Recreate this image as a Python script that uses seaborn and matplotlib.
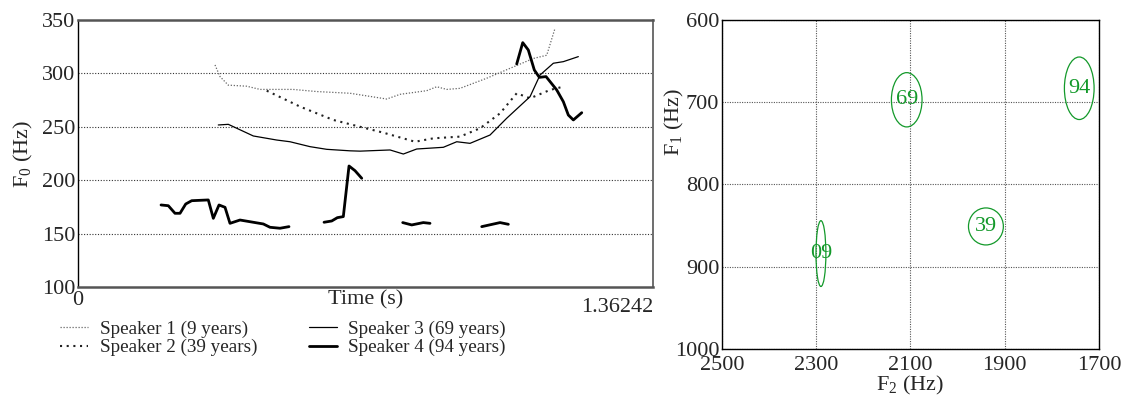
import numpy as np
import pandas as pd
import matplotlib
matplotlib.use("Agg")
import matplotlib.pyplot as plt
import seaborn as sns
from matplotlib.patches import Ellipse
from matplotlib.lines import Line2D

# ---------------- data ----------------
T_MAX = 1.36242

s1_t = [0.3246, 0.3365, 0.356, 0.3997, 0.4312, 0.5094, 0.5656, 0.6445, 0.7314, 0.763,
        0.826, 0.85, 0.8736, 0.905, 0.968, 1.031, 1.079, 1.1105, 1.130]
s1_f = [307.9, 297, 289, 288, 285, 285, 283, 281.4, 276, 280.4,
        283.8, 287.5, 285, 286, 295.4, 306, 314, 317, 342]

s2_t = [0.4471, 0.526, 0.6049, 0.6682, 0.7234, 0.7985, 0.8419, 0.9051, 0.9525, 0.9999,
        1.0394, 1.071, 1.1184, 1.1499]
s2_f = [283.8, 268.9, 256.4, 250, 244.5, 236, 239.2, 240.8, 248.6, 262.6,
        281.4, 276.7, 284.5, 287.6]

s3_t = [0.3324, 0.3561, 0.4154, 0.4708, 0.5023, 0.5497, 0.5893, 0.6445, 0.6682, 0.7393,
        0.7708, 0.8025, 0.8656, 0.8973, 0.9288, 0.9762, 1.0157, 1.071, 1.0947, 1.1262,
        1.1499, 1.1854]
s3_f = [251.7, 252.3, 241.4, 237.6, 236, 231.4, 228.9, 227.5, 227.2, 228.3,
        224.5, 229.2, 230.8, 236, 234.5, 242.3, 258, 278.2, 298.5, 309.5,
        311, 315.7]

s4_seg = [0] * 16 + [1] * 7 + [2] * 4 + [3] * 3 + [4] * 11
s4_t = [0.1967, 0.2140, 0.2298, 0.2417, 0.2552, 0.2694, 0.3087, 0.3206, 0.3341, 0.3483,
        0.3601, 0.3838, 0.4391, 0.4549, 0.4786, 0.4999,
        0.5829, 0.6011, 0.6144, 0.6286, 0.6421, 0.6563, 0.6722,
        0.7693, 0.7907, 0.8181, 0.8340,
        0.9565, 0.9999, 1.0196,
        1.0394, 1.0537, 1.0669, 1.0811, 1.0930, 1.1089, 1.1342, 1.1499, 1.1617, 1.1736, 1.1935]
s4_f = [176.8, 176.1, 169, 169, 177.7, 180.8, 181.5, 164.3, 176.8, 174.6,
        159.6, 162.7, 159, 155.9, 155, 156.5,
        160.6, 161.8, 164.9, 165.9, 213.3, 208.9, 201.8,
        160.3, 158.1, 160.3, 159.6,
        156.5, 160.3, 158.7,
        308.8, 328.8, 321.9, 303.2, 296.3, 297, 284.5, 273.5, 261, 256.4, 263.2]

speaker_labels = ["Speaker 1 (9 years)", "Speaker 2 (39 years)",
                  "Speaker 3 (69 years)", "Speaker 4 (94 years)"]

vowel_labels = ["09", "69", "39", "94"]
vowel_f2 = [2290, 2108, 1940, 1742]
vowel_f1 = [884, 697, 851, 683]
vowel_w = [21, 65, 74, 63]     # ellipse width in F2 (Hz)
vowel_h = [80, 66, 45, 76]     # ellipse height in F1 (Hz)

# ---------------- style ----------------
sns.set_style("white")
plt.rcParams["font.family"] = ["Liberation Serif", "DejaVu Serif"]
plt.rcParams["mathtext.fontset"] = "stix"
FS = 16
FLEG = 13.8

fig = plt.figure(figsize=(11.24, 3.96), dpi=100)
ax1 = fig.add_axes([0.0694, 0.2753, 0.5116, 0.6742])
ax2 = fig.add_axes([0.6423, 0.1187, 0.3355, 0.8308])

styles = [
    dict(color="#666666", lw=0.9, ls=(0, (1, 1.4))),
    dict(color="#222222", lw=1.5, ls=(0, (1, 2.2))),
    dict(color="black", lw=0.9, ls="-"),
    dict(color="black", lw=2.0, ls="-"),
]

def draw(t, f, seg, st):
    df = pd.DataFrame({"t": t, "f": f, "seg": seg})
    sns.lineplot(data=df, x="t", y="f", units="seg", estimator=None, sort=False,
                 ax=ax1, color=st["color"], linewidth=st["lw"], linestyle=st["ls"])

draw(s1_t, s1_f, [0] * len(s1_t), styles[0])
draw(s2_t, s2_f, [0] * len(s2_t), styles[1])
draw(s3_t, s3_f, [0] * len(s3_t), styles[2])
draw(s4_t, s4_f, s4_seg, styles[3])

ax1.set_xlim(0, T_MAX)
ax1.set_ylim(100, 350)
ax1.set_yticks([100, 150, 200, 250, 300, 350])
ax1.set_yticklabels(["100", "150", "200", "250", "300", "350"], fontsize=FS)
ax1.set_xticks([])
ax1.set_xlabel("")
ax1.set_ylabel(r"$\mathregular{F_0}$ (Hz)", fontsize=FS, va="center")
ax1.yaxis.set_label_coords(-0.095, 0.5)
ax1.tick_params(axis="y", length=0, pad=2)
for y in [150, 200, 250, 300]:
    ax1.axhline(y, color="#333333", lw=0.8, ls=(0, (1, 1.5)), zorder=0)
ax1.spines["left"].set_color("black")
ax1.spines["left"].set_linewidth(1.0)
for s in ["top", "bottom"]:
    ax1.spines[s].set_color("#555555")
    ax1.spines[s].set_linewidth(1.8)
ax1.spines["right"].set_color("#555555")
ax1.spines["right"].set_linewidth(1.2)

ax1.text(0, -0.015, "0", transform=ax1.transAxes, ha="center", va="top", fontsize=FS)
ax1.text(0.5, -0.012, "Time (s)", transform=ax1.transAxes, ha="center", va="top", fontsize=FS)
ax1.text(1.0, -0.04, f"{T_MAX:g}", transform=ax1.transAxes, ha="right", va="top", fontsize=FS)

handles = [Line2D([], [], color=s["color"], lw=s["lw"], ls=s["ls"]) for s in styles]
fig.legend(handles, speaker_labels, ncol=2, loc="upper left",
           bbox_to_anchor=(0.047, 0.21), frameon=False, fontsize=FLEG,
           handlelength=1.45, handletextpad=0.6, columnspacing=2.7,
           labelspacing=0.05, borderaxespad=0)

# ---------------- right panel ----------------
green = "#13992a"
for lab, x, y, w, h in zip(vowel_labels, vowel_f2, vowel_f1, vowel_w, vowel_h):
    ax2.add_patch(Ellipse((x, y), w, h, fill=False, edgecolor=green, lw=0.9))
    ax2.text(x, y, lab, color=green, ha="center", va="center", fontsize=FS)

ax2.set_xlim(2500, 1700)
ax2.set_ylim(1000, 600)
ax2.set_xticks([2500, 2300, 2100, 1900, 1700])
ax2.set_yticks([600, 700, 800, 900, 1000])
ax2.set_xticklabels(["2500", "2300", "2100", "1900", "1700"], fontsize=FS)
ax2.set_yticklabels(["600", "700", "800", "900", "1000"], fontsize=FS)
ax2.tick_params(axis="y", length=0, pad=2)
ax2.tick_params(axis="x", length=0, pad=5)
ax2.grid(True, color="#555555", lw=0.8, ls=(0, (1, 1.2)))
for s in ax2.spines.values():
    s.set_color("black")
    s.set_linewidth(1.0)
ax2.set_xlabel(r"$\mathregular{F_2}$ (Hz)", fontsize=FS, labelpad=-1)
ax2.set_ylabel(r"$\mathregular{F_1}$ (Hz)", fontsize=FS, va="center")
ax2.yaxis.set_label_coords(-0.125, 0.69)

fig.savefig("out.png", dpi=100)
